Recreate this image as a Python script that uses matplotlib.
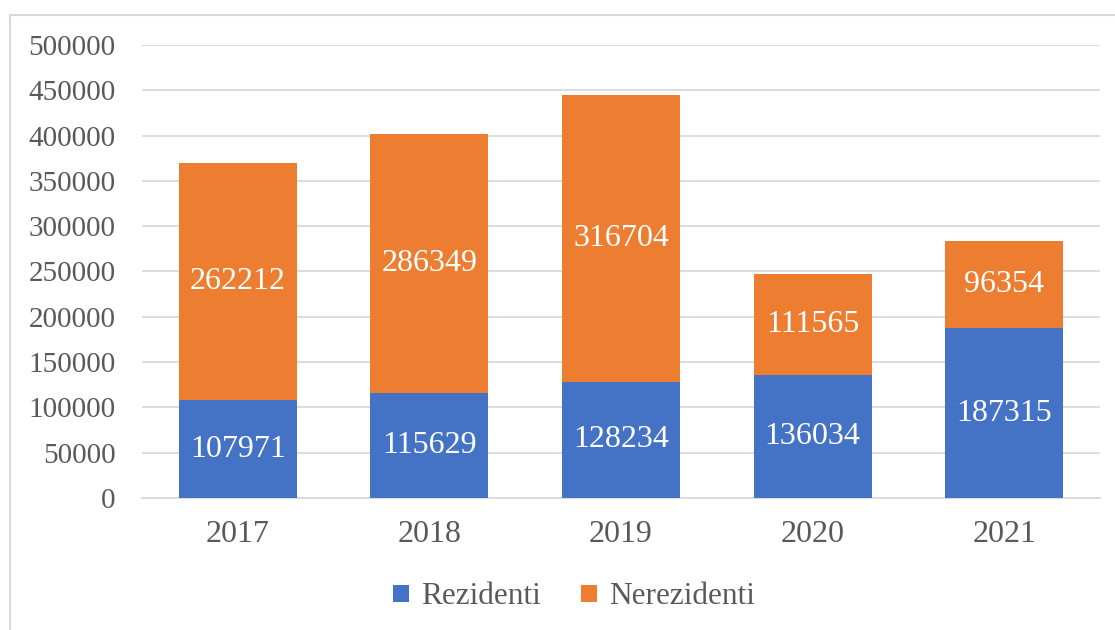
import matplotlib.pyplot as plt
import matplotlib.patches as mpatches
import numpy as np

years = ['2017', '2018', '2019', '2020', '2021']
rezidenti = [107971, 115629, 128234, 136034, 187315]
nerezidenti = [262212, 286349, 316704, 111565, 96354]

blue = '#4472C4'
orange = '#ED7D31'
grey_txt = '#595959'
grid_col = '#D9D9D9'

plt.rcParams['font.family'] = ['Liberation Serif', 'DejaVu Serif']

fig = plt.figure(figsize=(11.15, 6.3), dpi=100)
ax = fig.add_axes([0.1274, 0.2095, 0.8591, 0.7191])

# outer chart frame (extends past right/bottom edge as in the reference)
frame = mpatches.Rectangle((10 / 1115, -0.1), 1.2, 1 - 15 / 630 + 0.1,
                           transform=fig.transFigure, fill=False,
                           edgecolor=grid_col, linewidth=1.5, zorder=0)
fig.patches.append(frame)

x = np.arange(len(years))
w = 0.616
b1 = ax.bar(x, rezidenti, w, color=blue, label='Rezidenti', zorder=3)
b2 = ax.bar(x, nerezidenti, w, bottom=rezidenti, color=orange, label='Nerezidenti', zorder=3)

for i in range(len(years)):
    ax.text(x[i], rezidenti[i] / 2, str(rezidenti[i]), ha='center', va='center',
            color='white', fontsize=23, zorder=4)
    ax.text(x[i], rezidenti[i] + nerezidenti[i] / 2, str(nerezidenti[i]), ha='center',
            va='center', color='white', fontsize=23, zorder=4)

ax.set_xlim(-0.5, 4.5)
ax.set_ylim(0, 500000)
ax.set_yticks(np.arange(0, 500001, 50000))
ax.set_yticklabels([str(v) for v in range(0, 500001, 50000)])
ax.set_xticks(x)
ax.set_xticklabels(years)
ax.tick_params(axis='y', length=0, colors=grey_txt, labelsize=21, pad=19)
ax.tick_params(axis='x', length=0, colors=grey_txt, labelsize=23, pad=16)

ax.grid(axis='y', color=grid_col, linewidth=1.3, zorder=0)
for s in ['top', 'right', 'left']:
    ax.spines[s].set_visible(False)
ax.spines['bottom'].set_color(grid_col)
ax.spines['bottom'].set_linewidth(1.3)

leg = fig.legend(handles=[b1, b2], loc='center', bbox_to_anchor=(0.515, 1 - 597 / 630),
                 ncol=2, frameon=False, fontsize=22.5, handlelength=0.5, handleheight=0.5,
                 handletextpad=0.4, columnspacing=1.3)
for t in leg.get_texts():
    t.set_color(grey_txt)

fig.savefig('out.png', dpi=100)
